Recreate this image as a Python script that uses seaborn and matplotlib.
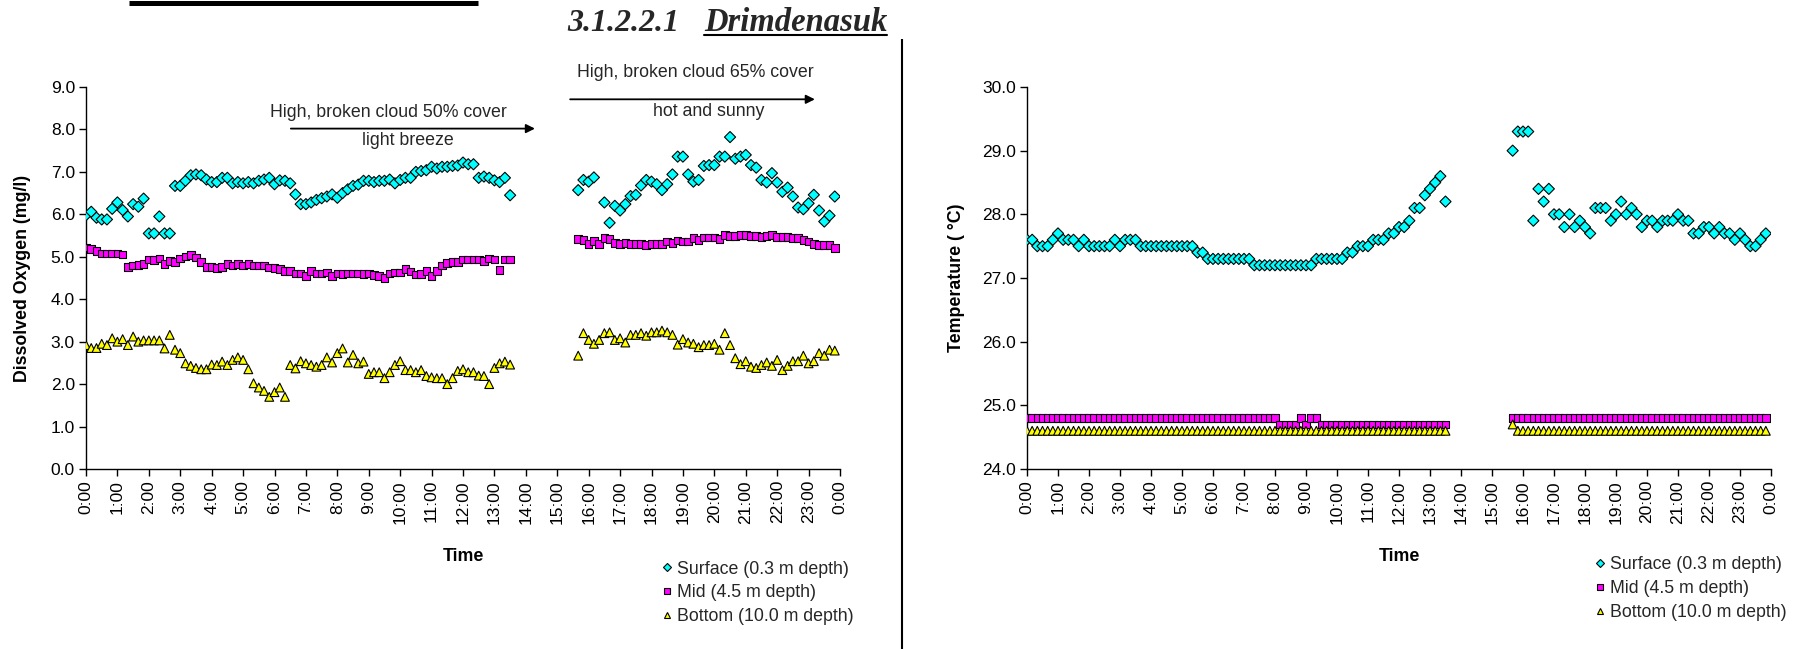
import numpy as np
import pandas as pd
import matplotlib
matplotlib.use("Agg")
import matplotlib.pyplot as plt
from matplotlib.lines import Line2D
import seaborn as sns

# ---------------- data ----------------
seg1_start, seg1_end = "00:00", "13:30"
seg2_start, seg2_end = "15:40", "23:50"
sample_interval = "10min"

series_names = ["Surface (0.3 m depth)", "Mid (4.5 m depth)", "Bottom (10.0 m depth)"]

do_surface_1 = [5.98, 6.06, 5.92, 5.88, 5.88, 6.13, 6.28, 6.10, 5.95, 6.24,
                6.18, 6.37, 5.55, 5.55, 5.95, 5.55, 5.55, 6.67, 6.67, 6.79,
                6.92, 6.94, 6.92, 6.82, 6.76, 6.76, 6.86, 6.86, 6.73, 6.76,
                6.73, 6.76, 6.73, 6.79, 6.82, 6.86, 6.71, 6.80, 6.79, 6.73,
                6.47, 6.24, 6.24, 6.28, 6.34, 6.38, 6.42, 6.47, 6.39, 6.50,
                6.59, 6.67, 6.70, 6.79, 6.79, 6.76, 6.79, 6.79, 6.82, 6.73,
                6.81, 6.86, 6.86, 7.00, 7.02, 7.04, 7.12, 7.08, 7.12, 7.12,
                7.14, 7.15, 7.22, 7.18, 7.18, 6.86, 6.89, 6.86, 6.80, 6.76,
                6.86, 6.45]
do_surface_2 = [6.57, 6.81, 6.77, 6.87, np.nan, 6.28, 5.80, 6.20, 6.09, 6.24,
                6.43, 6.46, 6.68, 6.81, 6.77, 6.71, 6.57, 6.71, 6.94, 7.36,
                7.36, 6.94, 6.77, 6.81, 7.14, 7.16, 7.16, 7.36, 7.36, 7.82,
                7.31, 7.36, 7.40, 7.16, 7.10, 6.81, 6.75, 6.97, 6.75, 6.53,
                6.63, 6.42, 6.16, 6.12, 6.26, 6.46, 6.09, 5.83, 5.97, 6.42]
do_mid_1 = [5.22, 5.18, 5.14, 5.08, 5.08, 5.08, 5.08, 5.05, 4.76, 4.79,
            4.80, 4.83, 4.94, 4.93, 4.96, 4.83, 4.90, 4.88, 4.96, 5.01,
            5.04, 4.98, 4.88, 4.76, 4.76, 4.73, 4.76, 4.83, 4.79, 4.83,
            4.79, 4.83, 4.79, 4.79, 4.79, 4.75, 4.73, 4.71, 4.67, 4.67,
            4.61, 4.61, 4.54, 4.67, 4.61, 4.61, 4.63, 4.55, 4.61, 4.59,
            4.61, 4.61, 4.61, 4.59, 4.61, 4.57, 4.54, 4.50, 4.61, 4.63,
            4.63, 4.71, 4.65, 4.58, 4.59, 4.67, 4.54, 4.67, 4.79, 4.85,
            4.88, 4.88, 4.94, 4.94, 4.94, 4.94, 4.90, 4.96, 4.94, 4.69,
            4.94, 4.94]
do_mid_2 = [5.42, 5.40, 5.30, 5.37, 5.30, 5.44, 5.42, 5.33, 5.30, 5.33,
            5.30, 5.30, 5.30, 5.28, 5.30, 5.30, 5.30, 5.36, 5.33, 5.38,
            5.36, 5.36, 5.44, 5.40, 5.45, 5.45, 5.45, 5.42, 5.51, 5.49,
            5.49, 5.51, 5.51, 5.49, 5.49, 5.46, 5.49, 5.51, 5.47, 5.47,
            5.46, 5.44, 5.44, 5.40, 5.36, 5.30, 5.28, 5.28, 5.28, 5.20]
do_bottom_1 = [2.92, 2.85, 2.85, 2.95, 2.92, 3.08, 3.00, 3.06, 2.92, 3.12,
               3.00, 3.03, 3.03, 3.03, 3.03, 2.84, 3.16, 2.81, 2.73, 2.49,
               2.43, 2.38, 2.35, 2.35, 2.46, 2.45, 2.53, 2.45, 2.57, 2.63,
               2.57, 2.35, 2.02, 1.92, 1.84, 1.70, 1.81, 1.92, 1.70, 2.45,
               2.37, 2.54, 2.49, 2.45, 2.41, 2.45, 2.63, 2.51, 2.73, 2.84,
               2.51, 2.69, 2.49, 2.53, 2.24, 2.28, 2.28, 2.14, 2.28, 2.45,
               2.54, 2.33, 2.33, 2.28, 2.33, 2.19, 2.16, 2.14, 2.14, 2.00,
               2.14, 2.31, 2.35, 2.28, 2.28, 2.20, 2.19, 2.00, 2.38, 2.49,
               2.53, 2.46]
do_bottom_2 = [2.67, 3.20, 3.04, 2.95, 3.04, 3.20, 3.22, 3.04, 3.08, 2.98,
               3.16, 3.16, 3.20, 3.14, 3.22, 3.22, 3.26, 3.22, 3.16, 2.93,
               3.06, 2.98, 2.95, 2.87, 2.92, 2.92, 2.95, 2.81, 3.20, 2.92,
               2.61, 2.47, 2.54, 2.41, 2.38, 2.45, 2.51, 2.43, 2.57, 2.33,
               2.43, 2.54, 2.54, 2.67, 2.49, 2.54, 2.73, 2.67, 2.81, 2.79]

temp_surface_1 = [27.6, 27.6, 27.5, 27.5, 27.5, 27.6, 27.7, 27.6, 27.6, 27.6,
                  27.5, 27.6, 27.5, 27.5, 27.5, 27.5, 27.5, 27.6, 27.5, 27.6,
                  27.6, 27.6, 27.5, 27.5, 27.5, 27.5, 27.5, 27.5, 27.5, 27.5,
                  27.5, 27.5, 27.5, 27.4, 27.4, 27.3, 27.3, 27.3, 27.3, 27.3,
                  27.3, 27.3, 27.3, 27.3, 27.2, 27.2, 27.2, 27.2, 27.2, 27.2,
                  27.2, 27.2, 27.2, 27.2, 27.2, 27.2, 27.3, 27.3, 27.3, 27.3,
                  27.3, 27.3, 27.4, 27.4, 27.5, 27.5, 27.5, 27.6, 27.6, 27.6,
                  27.7, 27.7, 27.8, 27.8, 27.9, 28.1, 28.1, 28.3, 28.4, 28.5,
                  28.6, 28.2]
temp_surface_2 = [29.0, 29.3, 29.3, 29.3, 27.9, 28.4, 28.2, 28.4, 28.0, 28.0,
                  27.8, 28.0, 27.8, 27.9, 27.8, 27.7, 28.1, 28.1, 28.1, 27.9,
                  28.0, 28.2, 28.0, 28.1, 28.0, 27.8, 27.9, 27.9, 27.8, 27.9,
                  27.9, 27.9, 28.0, 27.9, 27.9, 27.7, 27.7, 27.8, 27.8, 27.7,
                  27.8, 27.7, 27.7, 27.6, 27.7, 27.6, 27.5, 27.5, 27.6, 27.7]
temp_mid_1 = [24.8, 24.8, 24.8, 24.8, 24.8, 24.8, 24.8, 24.8, 24.8, 24.8,
              24.8, 24.8, 24.8, 24.8, 24.8, 24.8, 24.8, 24.8, 24.8, 24.8,
              24.8, 24.8, 24.8, 24.8, 24.8, 24.8, 24.8, 24.8, 24.8, 24.8,
              24.8, 24.8, 24.8, 24.8, 24.8, 24.8, 24.8, 24.8, 24.8, 24.8,
              24.8, 24.8, 24.8, 24.8, 24.8, 24.8, 24.8, 24.8, 24.8, 24.7,
              24.7, 24.7, 24.7, 24.8, 24.7, 24.8, 24.8, 24.7, 24.7, 24.7,
              24.7, 24.7, 24.7, 24.7, 24.7, 24.7, 24.7, 24.7, 24.7, 24.7,
              24.7, 24.7, 24.7, 24.7, 24.7, 24.7, 24.7, 24.7, 24.7, 24.7,
              24.7, 24.7]
temp_mid_2 = [24.8, 24.8, 24.8, 24.8, 24.8, 24.8, 24.8, 24.8, 24.8, 24.8,
              24.8, 24.8, 24.8, 24.8, 24.8, 24.8, 24.8, 24.8, 24.8, 24.8,
              24.8, 24.8, 24.8, 24.8, 24.8, 24.8, 24.8, 24.8, 24.8, 24.8,
              24.8, 24.8, 24.8, 24.8, 24.8, 24.8, 24.8, 24.8, 24.8, 24.8,
              24.8, 24.8, 24.8, 24.8, 24.8, 24.8, 24.8, 24.8, 24.8, 24.8]
temp_bottom_1 = [24.6, 24.6, 24.6, 24.6, 24.6, 24.6, 24.6, 24.6, 24.6, 24.6,
                 24.6, 24.6, 24.6, 24.6, 24.6, 24.6, 24.6, 24.6, 24.6, 24.6,
                 24.6, 24.6, 24.6, 24.6, 24.6, 24.6, 24.6, 24.6, 24.6, 24.6,
                 24.6, 24.6, 24.6, 24.6, 24.6, 24.6, 24.6, 24.6, 24.6, 24.6,
                 24.6, 24.6, 24.6, 24.6, 24.6, 24.6, 24.6, 24.6, 24.6, 24.6,
                 24.6, 24.6, 24.6, 24.6, 24.6, 24.6, 24.6, 24.6, 24.6, 24.6,
                 24.6, 24.6, 24.6, 24.6, 24.6, 24.6, 24.6, 24.6, 24.6, 24.6,
                 24.6, 24.6, 24.6, 24.6, 24.6, 24.6, 24.6, 24.6, 24.6, 24.6,
                 24.6, 24.6]
temp_bottom_2 = [24.7, 24.6, 24.6, 24.6, 24.6, 24.6, 24.6, 24.6, 24.6, 24.6,
                 24.6, 24.6, 24.6, 24.6, 24.6, 24.6, 24.6, 24.6, 24.6, 24.6,
                 24.6, 24.6, 24.6, 24.6, 24.6, 24.6, 24.6, 24.6, 24.6, 24.6,
                 24.6, 24.6, 24.6, 24.6, 24.6, 24.6, 24.6, 24.6, 24.6, 24.6,
                 24.6, 24.6, 24.6, 24.6, 24.6, 24.6, 24.6, 24.6, 24.6, 24.6]

hour_ticks = [0, 1, 2, 3, 4, 5, 6, 7, 8, 9, 10, 11, 12, 13, 14, 15, 16, 17, 18,
              19, 20, 21, 22, 23, 24]
hour_tick_labels = ["0:00", "1:00", "2:00", "3:00", "4:00", "5:00", "6:00", "7:00",
                    "8:00", "9:00", "10:00", "11:00", "12:00", "13:00", "14:00",
                    "15:00", "16:00", "17:00", "18:00", "19:00", "20:00", "21:00",
                    "22:00", "23:00", "0:00"]
do_ticks = [0.0, 1.0, 2.0, 3.0, 4.0, 5.0, 6.0, 7.0, 8.0, 9.0]
temp_ticks = [24.0, 25.0, 26.0, 27.0, 28.0, 29.0, 30.0]

ann_left_1 = "High, broken cloud 50% cover"
ann_left_2 = "light breeze"
ann_right_1 = "High, broken cloud 65% cover"
ann_right_2 = "hot and sunny"

# ---------------- build frames ----------------
def hours_of(start, end):
    t = pd.date_range("2000-01-01 " + start, "2000-01-01 " + end, freq=sample_interval)
    return ((t - pd.Timestamp("2000-01-01")) / pd.Timedelta(hours=1)).to_numpy()

h1 = hours_of(seg1_start, seg1_end)
h2 = hours_of(seg2_start, seg2_end)

def frame(seg1_lists, seg2_lists):
    parts = []
    for name, a, b in zip(series_names, seg1_lists, seg2_lists):
        parts.append(pd.DataFrame({"hour": h1, "value": a, "series": name}))
        parts.append(pd.DataFrame({"hour": h2, "value": b, "series": name}))
    return pd.concat(parts, ignore_index=True).dropna()

df_do = frame([do_surface_1, do_mid_1, do_bottom_1], [do_surface_2, do_mid_2, do_bottom_2])
df_t = frame([temp_surface_1, temp_mid_1, temp_bottom_1],
             [temp_surface_2, temp_mid_2, temp_bottom_2])

# ---------------- style ----------------
sns.set_theme(style="ticks")
plt.rcParams["font.family"] = ["Liberation Sans", "DejaVu Sans"]
plt.rcParams["axes.linewidth"] = 1.0

palette = {series_names[0]: "#00FFFF", series_names[1]: "#FF00FF", series_names[2]: "#FFFF00"}
markers = {series_names[0]: "D", series_names[1]: "s", series_names[2]: "^"}
sizes = {series_names[0]: 32, series_names[1]: 30, series_names[2]: 40}

fig = plt.figure(figsize=(17.95, 6.49), dpi=100)
W, H = 1795.0, 649.0
ax1 = fig.add_axes([86 / W, 1 - 469 / H, 754 / W, 382 / H])
ax2 = fig.add_axes([1027 / W, 1 - 469 / H, 744 / W, 382 / H])

for ax, df, ticks, ylabel in ((ax1, df_do, do_ticks, "Dissolved Oxygen (mg/l)"),
                              (ax2, df_t, temp_ticks, "Temperature ( \u00b0C)")):
    sns.scatterplot(data=df, x="hour", y="value", hue="series", style="series",
                    size="series", palette=palette, markers=markers, sizes=sizes,
                    edgecolor="black", linewidth=0.8, legend=False, ax=ax, zorder=3)
    ax.set_xlim(hour_ticks[0], hour_ticks[-1])
    ax.set_ylim(ticks[0], ticks[-1])
    ax.set_xticks(hour_ticks)
    ax.set_xticklabels(hour_tick_labels, rotation=90)
    ax.set_yticks(ticks)
    ax.set_yticklabels([f"{t:.1f}" for t in ticks])
    ax.tick_params(axis="both", direction="out", length=5, width=1.0,
                   labelsize=12.5, colors="black", pad=3)
    sns.despine(ax=ax)
    for sp in ("left", "bottom"):
        ax.spines[sp].set_color("black")
    ax.set_xlabel("Time", fontsize=12.8, fontweight="bold", color="black")
    ax.xaxis.set_label_coords(0.5, -0.208)
    ax.set_ylabel(ylabel, fontsize=12.8, fontweight="bold", color="black")
    ax.set_facecolor("white")

ax1.yaxis.set_label_coords(-0.073, 0.5)
ax2.yaxis.set_label_coords(-0.084, 0.5)

# annotations in the DO chart
ax1.text(9.64, 8.41, ann_left_1, ha="center", va="center", fontsize=12.8)
ax1.annotate("", xy=(14.29, 8.02), xytext=(6.52, 8.02),
             arrowprops=dict(arrowstyle="-|>", color="black", lw=1.3,
                             mutation_scale=13, shrinkA=0, shrinkB=0))
ax1.text(10.25, 7.74, ann_left_2, ha="center", va="center", fontsize=12.8)
ax1.text(19.4, 9.33, ann_right_1, ha="center", va="center", fontsize=12.8, clip_on=False)
ax1.annotate("", xy=(23.2, 8.71), xytext=(15.41, 8.71), annotation_clip=False,
             arrowprops=dict(arrowstyle="-|>", color="black", lw=1.3,
                             mutation_scale=13, shrinkA=0, shrinkB=0))
ax1.text(19.83, 8.42, ann_right_2, ha="center", va="center", fontsize=12.8)

# legends
def legend_handles():
    hs = []
    for n in series_names:
        hs.append(Line2D([], [], linestyle="none", marker=markers[n], markersize=4.4,
                         markerfacecolor=palette[n], markeredgecolor="black",
                         markeredgewidth=0.8))
    return hs

for x0, y0 in ((661.7 / W, 1 - 560.5 / H), (1594.7 / W, 1 - 556.0 / H)):
    fig.legend(legend_handles(), series_names, loc="upper left", bbox_to_anchor=(x0, y0),
               frameon=False, fontsize=12.8, handlelength=0.6, handletextpad=0.26,
               labelspacing=0.39, borderpad=0, borderaxespad=0)

# heading and page decorations
serif = ["Liberation Serif", "DejaVu Serif"]
fig.text(567 / W, 1 - 31 / H, "3.1.2.2.1", fontsize=23, fontweight="bold",
         fontstyle="italic", family=serif, va="baseline", ha="left")
word = fig.text(704 / W, 1 - 31 / H, "Drimdenasuk", fontsize=23.5, fontweight="bold",
                fontstyle="italic", family=serif, va="baseline", ha="left")
fig.canvas.draw()
bb = word.get_window_extent()
fig.add_artist(Line2D([bb.x0 / W, bb.x1 / W], [1 - 35 / H, 1 - 35 / H],
                      transform=fig.transFigure, color="black", lw=1.5))
fig.add_artist(Line2D([129 / W, 478 / W], [1 - 2.5 / H, 1 - 2.5 / H],
                      transform=fig.transFigure, color="black", lw=3.6,
                      solid_capstyle="butt"))
fig.add_artist(Line2D([902 / W, 902 / W], [1 - 39 / H, 0],
                      transform=fig.transFigure, color="black", lw=1.5,
                      solid_capstyle="butt"))

fig.savefig("out.png", dpi=100, facecolor="white")
